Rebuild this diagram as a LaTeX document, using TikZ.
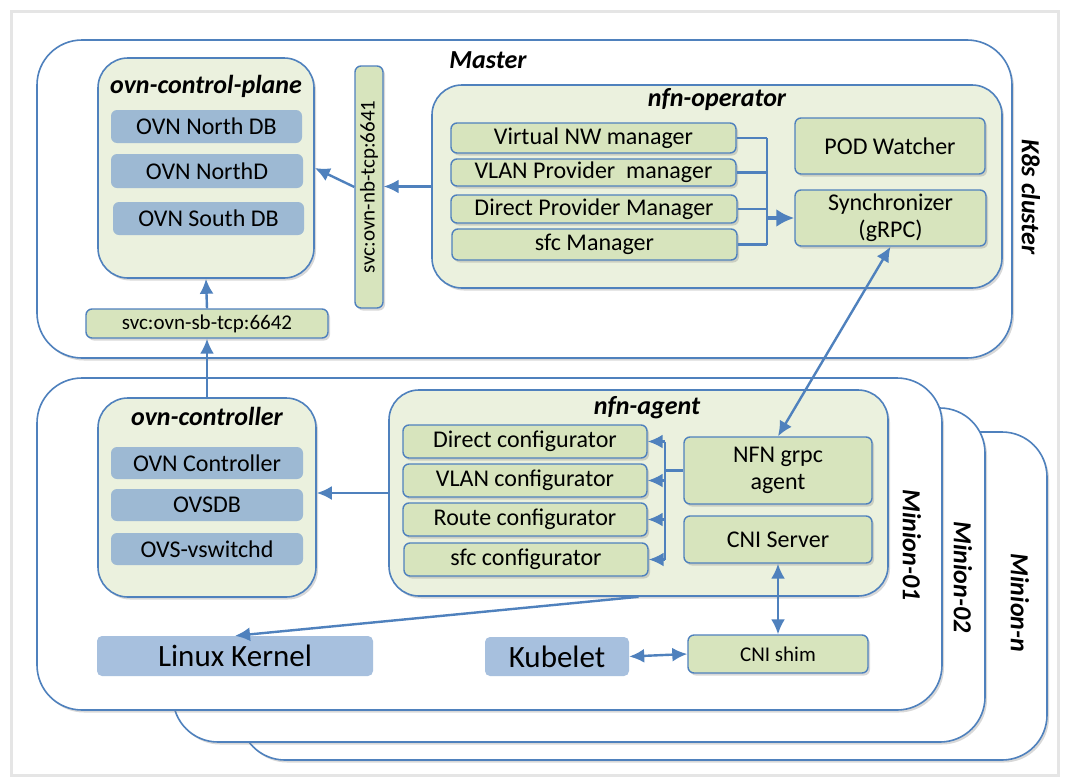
\documentclass[tikz,border=0pt]{standalone}
\usepackage{fontspec}
\setmainfont{Carlito}
\usetikzlibrary{arrows.meta,shadows,calc}
\definecolor{lb}{HTML}{4F81BD}
\definecolor{pan}{HTML}{EBF1DE}
\definecolor{itm}{HTML}{D7E4BD}
\definecolor{dbb}{HTML}{9DB9D3}
\definecolor{kb}{HTML}{A7C0DE}
\newcommand\bx[7]{\node[#6, minimum width={(#4-#2)*1pt}, minimum height={(#5-#3)*1pt}] (#1) at ({(#2+#4)/2},{(#3+#5)/2}) {#7};}
\tikzset{
  x=1pt, y=-1pt,
  shd/.style={drop shadow={opacity=0.3, shadow xshift=2pt, shadow yshift=-2.5pt}},
  big/.style={draw=lb, line width=1.6pt, fill=white, rounded corners=45pt, inner sep=0pt, shd},
  panel/.style={draw=lb, line width=1.6pt, fill=pan, rounded corners=30pt, inner sep=0pt, shd},
  item/.style={draw=lb, line width=1.4pt, fill=itm, rounded corners=6pt, inner sep=0pt, align=center, font=\fontsize{24}{27}\selectfont, shd},
  dbox/.style={fill=dbb, rounded corners=6pt, inner sep=0pt, font=\fontsize{24}{27}\selectfont},
  kbox/.style={fill=kb, rounded corners=5pt, inner sep=0pt, font=\fontsize{31}{35}\selectfont},
  ttl/.style={font=\fontsize{26}{30}\selectfont\bfseries\itshape, inner sep=0pt},
  conn/.style={draw=lb, line width=2.4pt},
  arr/.style={conn, -{Latex[length=15pt,width=14pt]}},
  darr/.style={conn, {Latex[length=15pt,width=14pt]}-{Latex[length=15pt,width=14pt]}},
}
\begin{document}
\begin{tikzpicture}
\useasboundingbox (0,0) rectangle (1067,779);
\fill[white] (0,0) rectangle (1067,779);
\draw[black!10, line width=3pt] (11,11) rectangle (1058,775);

% minion stacks
\bx{mn}{240}{432}{1047}{760}{big}{}
\bx{m2}{173}{408}{985}{742}{big}{}
\bx{m1}{37}{378}{942}{710}{big}{}
\bx{master}{37}{40}{1012}{358}{big}{}

\node[ttl] (tmaster) at (488,60) {Master};
\node[ttl, rotate=-90] (tk8s) at (1031,197) {K8s cluster};
\node[ttl, rotate=-90] (tm1) at (912,545) {Minion-01};
\node[ttl, rotate=-90] (tm2) at (963,577) {Minion-02};
\node[ttl, rotate=-90] (tmn) at (1020,603) {Minion-n};

% ovn-control-plane
\bx{cp}{98}{58}{314}{278}{panel}{}
\node[ttl] (tcp) at (206,86) {ovn-control-plane};
\bx{ndb}{111}{110}{302}{143}{dbox}{OVN North DB}
\bx{nd}{111}{154}{303}{188}{dbox}{OVN NorthD}
\bx{sdb}{113}{202}{304}{235}{dbox}{OVN South DB}

\bx{nb}{355}{66}{383}{308}{item}{\rotatebox{90}{\fontsize{21}{24}\selectfont svc:ovn-nb-tcp:6641}}
\bx{sb}{86}{309}{328}{338}{item, font=\fontsize{21}{24}\selectfont}{svc:ovn-sb-tcp:6642}

% nfn-operator
\bx{op}{432}{85}{1002}{288}{panel}{}
\node[ttl] (top) at (717,100) {nfn-operator};
\bx{vnw}{451}{123}{736}{153}{item}{Virtual NW manager}
\bx{vlan}{451}{159}{736}{186}{item}{VLAN Provider\ \ manager}
\bx{dpm}{451}{195}{737}{223}{item}{Direct Provider Manager}
\bx{sfcm}{452}{229}{737}{260}{item}{sfc Manager}
\bx{pod}{795}{118}{985}{174}{item}{POD Watcher}
\bx{sync}{795}{190}{986}{246}{item}{Synchronizer\\(gRPC)}

% minion-01 contents
\bx{ovnc}{98}{398}{316}{597}{panel}{}
\node[ttl] (tovnc) at (207,416) {ovn-controller};
\bx{oc}{111}{447}{303}{479}{dbox}{OVN Controller}
\bx{ovsdb}{111}{489}{303}{521}{dbox}{OVSDB}
\bx{vsw}{111}{533}{303}{565}{dbox}{OVS-vswitchd}

\bx{ag}{389}{390}{888}{596}{panel}{}
\node[ttl] (tag) at (647,408) {nfn-agent};
\bx{dc}{403}{425}{647}{458}{item}{Direct configurator}
\bx{vc}{403}{464}{647}{497}{item}{VLAN configurator}
\bx{rc}{403}{503}{647}{536}{item}{Route configurator}
\bx{sc}{404}{543}{648}{576}{item}{sfc configurator}
\bx{grpc}{684}{437}{872}{504}{item}{NFN grpc\\agent}
\bx{cnis}{684}{516}{872}{563}{item}{CNI Server}

\bx{lk}{97}{636}{373}{676}{kbox}{Linux Kernel}
\bx{kub}{485}{637}{629}{676}{kbox}{Kubelet}
\bx{shim}{688}{635}{868}{673}{item, font=\fontsize{21}{24}\selectfont}{CNI shim}

% connectors: master
\draw[arr] (op.west) -- (op.west -| nb.east);
\draw[arr] (nb.west) -- (cp.east);
\draw[arr] (sb.north) -- (cp.south);
\draw[arr] (ovnc.north) -- (sb.south);

\coordinate (bus) at (767,0);
\draw[conn] (vnw.east) -- (vnw.east -| bus);
\draw[conn] (vlan.east) -- (vlan.east -| bus);
\draw[conn] (dpm.east) -- (dpm.east -| bus);
\draw[conn] (sfcm.east) -- (sfcm.east -| bus);
\draw[conn] (vnw.east -| bus) -- (sfcm.east -| bus);
\draw[draw=lb, line width=4.5pt, -{Latex[length=18pt,width=18pt]}] (sync.west -| bus) ++(-1,0) -- (sync.west);

\draw[darr] (sync.south) -- (grpc.north);

% connectors: agent
\coordinate (abus) at (665,0);
\draw[conn] (grpc.west) -- (grpc.west -| abus);
\draw[conn] (dc.east -| abus) -- (sc.east -| abus);
\draw[arr] (dc.east -| abus) -- (dc.east);
\draw[arr] (vc.east -| abus) -- (vc.east);
\draw[arr] (rc.east -| abus) -- (rc.east);
\draw[arr] (sc.east -| abus) -- (sc.east);

\draw[arr] (ag.west) -- (ag.west -| ovnc.east);
\draw[arr] (ag.south) -- (lk.north);
\draw[darr] (cnis.south) -- (shim.north);
\draw[darr] (kub.east) -- (shim.west);
\end{tikzpicture}
\end{document}
